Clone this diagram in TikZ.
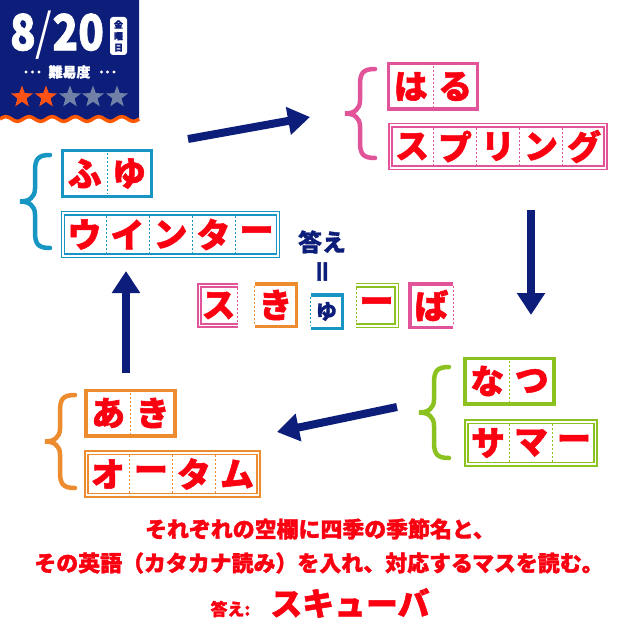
\documentclass[tikz,border=0pt]{standalone}
\usepackage{fontspec}
\newfontfamily\jp{Noto Sans CJK JP}[BoldFeatures={FakeBold=1.5}]
\usetikzlibrary{arrows.meta,calc,shapes.geometric}
\definecolor{qznavy}{RGB}{12,30,122}
\definecolor{qzred}{RGB}{250,0,16}
\definecolor{qzpink}{RGB}{226,84,154}
\definecolor{qzblue}{RGB}{24,150,195}
\definecolor{qzgreen}{RGB}{140,194,32}
\definecolor{qzorange}{RGB}{236,140,46}
\definecolor{qzwave}{RGB}{255,88,0}
\definecolor{qzstar}{RGB}{255,82,20}
\definecolor{qzgrey}{RGB}{112,128,166}
\newcommand{\kanafont}{\jp\bfseries\fontsize{34}{34}\selectfont}
% name, frame, colour, centre, cells, cell width, letters
\newcommand{\wordbox}[7]{%
  \node[#2=#3,minimum width=#5*#6bp] (#1) at (#4) {};
  \foreach \ch [count=\k] in {#7} {
    \node[kana] (#1-\k) at ($(#1.west)+({(\k-.5)*#6},0)$) {\ch};
    \ifnum\k<#5 \draw[cut=#3] ($(#1.north west)+(\k*#6,0)$) -- ($(#1.south west)+(\k*#6,0)$);\fi
  }}
% colour, tip x, top y, bottom y
\newcommand{\seasonbrace}[4]{%
  \pgfmathsetmacro\cmid{(#3+#4)/2}
  \draw[curl=#1] (#2+30,#3) .. controls (#2+18,#3) and (#2+15,#3+4) .. (#2+15,#3+16)
    -- (#2+15,\cmid-13) .. controls (#2+15,\cmid-4) and (#2+9,\cmid) .. (#2,\cmid)
    .. controls (#2+9,\cmid) and (#2+15,\cmid+4) .. (#2+15,\cmid+13)
    -- (#2+15,#4-16) .. controls (#2+15,#4-4) and (#2+18,#4) .. (#2+30,#4);}

\begin{document}
\begin{tikzpicture}[x=1bp,y=-1bp,every node/.style={inner sep=0pt,outer sep=0pt},
    kana/.style={font=\kanafont,text=qzred},
    onebox/.style={draw=#1,line width=3.5bp,minimum height=45.5bp},
    twobox/.style={draw=#1,double=white,double distance=1.8bp,line width=1.4bp,minimum height=42.5bp},
    cut/.style={draw=#1,line width=.9bp,dash pattern=on 2.2bp off 1.8bp,shorten <=2.3bp,shorten >=2.3bp},
    curl/.style={draw=#1,line width=4.5bp,line cap=round},
    rank/.style={star,star points=5,star point ratio=2.4,minimum size=23bp,fill=#1},
    note/.style={text=qzred,font=\jp\bfseries\fontsize{22}{22}\selectfont},
    flow/.style={draw=qznavy,line width=8bp,-{Triangle[length=22bp,width=27bp]}}]
  \useasboundingbox (0,0) rectangle (640,640);
  % date badge
  \fill[qznavy] (139,0) -- (0,0) -- (0,119) \foreach \w in {1,...,6} { sin ++(5.8,-2.4) cos ++(5.8,2.4) sin ++(5.8,2.4) cos ++(5.8,-2.4) } -- cycle;
  \draw[qzwave,line width=3.5bp] (0,119) \foreach \w in {1,...,6} { sin ++(5.8,-2.4) cos ++(5.8,2.4) sin ++(5.8,2.4) cos ++(5.8,-2.4) };
  \node[text=white,font=\jp\bfseries\fontsize{50}{50}\selectfont,xscale=.85] (date) at (57,35) {8{\mdseries/}20};
  \node[fill=white,rounded corners=3bp,minimum width=17bp,minimum height=38bp,text=qznavy,
    font=\jp\bfseries\fontsize{9}{11.5}\selectfont,align=center] (wday) at (118.5,36) {金\\曜\\日};
  \node[text=white,font=\jp\bfseries\fontsize{14}{14}\selectfont] (level) at (69.5,72) {難易度};
  \foreach \d in {26,32.5,39,101.5,107.5,114} \fill[white] (\d,72) circle (1.7);
  \foreach \x [count=\k] in {22,46} \node[rank=qzstar] (star\k) at (\x,97) {};
  \foreach \x [count=\k from 3] in {70,93,117} \node[rank=qzgrey] (star\k) at (\x,97) {};
  % seasons
  \wordbox{haru}{onebox}{qzpink}{433,86.5}{2}{44.5}{は,る}
  \wordbox{spring}{twobox}{qzpink}{498,146.5}{5}{43}{ス,プ,リ,ン,グ}
  \wordbox{fuyu}{onebox}{qzblue}{107,173.5}{2}{44.5}{ふ,ゆ}
  \wordbox{winter}{twobox}{qzblue}{170.5,234.5}{5}{43}{ウ,イ,ン,タ,ー}
  \wordbox{natsu}{onebox}{qzgreen}{509.5,381}{2}{44.5}{な,つ}
  \wordbox{summer}{twobox}{qzgreen}{531,443}{3}{43}{サ,マ,ー}
  \wordbox{aki}{onebox}{qzorange}{130.5,413}{2}{44.5}{あ,き}
  \wordbox{autumn}{twobox}{qzorange}{172.5,474}{4}{43}{オ,ー,タ,ム}
  \seasonbrace{qzpink}{345}{69}{158}
  \seasonbrace{qzblue}{20}{155}{248}
  \seasonbrace{qzgreen}{419}{367}{458}
  \seasonbrace{qzorange}{45}{395}{488}
  % cycle arrows
  \coordinate (w2s-a) at (188,139); \coordinate (w2s-b) at (310,117);
  \coordinate (s2u-a) at (531,210); \coordinate (s2u-b) at (531,315);
  \coordinate (u2a-a) at (397,407); \coordinate (u2a-b) at (277,432);
  \coordinate (a2w-a) at (126,373); \coordinate (a2w-b) at (126,271);
  \draw[flow] (w2s-a) -- (w2s-b);
  \draw[flow] (s2u-a) -- (s2u-b);
  \draw[flow] (u2a-a) -- (u2a-b);
  \draw[flow] (a2w-a) -- (a2w-b);
  % answer
  \node[text=qznavy,font=\jp\bfseries\fontsize{24}{24}\selectfont] (answord) at (322,242) {答え};
  \node[text=qznavy,font=\jp\bfseries\fontsize{26}{26}\selectfont,rotate=90] (equal) at (325,271.5) {＝};
  \node[kana,minimum width=38bp,minimum height=40bp] (ans1) at (218.5,305.5) {ス};
  \draw[twobox=qzpink] (ans1.north east) -- (ans1.north west) -- (ans1.south west) -- (ans1.south east);
  \draw[cut=qzpink] (ans1.north east) -- (ans1.south east);
  \node[kana,minimum width=41.5bp,minimum height=42.5bp] (ans2) at (275.5,305) {き};
  \draw[onebox=qzorange] (ans2.north west) -- (ans2.north east) -- (ans2.south east) -- (ans2.south west);
  \draw[cut=qzorange] (ans2.north west) -- (ans2.south west);
  \node[kana,text=qznavy,font=\jp\bfseries\fontsize{21}{21}\selectfont,minimum width=31.5bp,minimum height=33.5bp] (ans3) at (326.5,311.5) {ゆ};
  \draw[onebox=qzblue] (ans3.north west) -- (ans3.north east) -- (ans3.south east) -- (ans3.south west);
  \draw[cut=qzblue] (ans3.north west) -- (ans3.south west);
  \node[kana,minimum width=40.5bp,minimum height=40.5bp] (ans4) at (376.5,305.5) {ー};
  \draw[twobox=qzgreen] (ans4.north west) -- (ans4.north east) -- (ans4.south east) -- (ans4.south west);
  \draw[cut=qzgreen] (ans4.north west) -- (ans4.south west);
  \node[kana,minimum width=43.5bp,minimum height=43.5bp] (ans5) at (431.5,305.5) {ば};
  \draw[onebox=qzpink] (ans5.north east) -- (ans5.north west) -- (ans5.south west) -- (ans5.south east);
  \draw[cut=qzpink] (ans5.north east) -- (ans5.south east);
  % rules
  \node[note] (rule1) at (320,529) {それぞれの空欄に四季の季節名と、};
  \node[note] (rule2) at (319,563) {その英語（カタカナ読み）を入れ、対応するマスを読む。};
  \node[text=qzred] (answer) at (320,603) {{\jp\bfseries\fontsize{17}{17}\selectfont 答え:}\hspace{20bp}{\jp\bfseries\fontsize{32}{32}\selectfont スキューバ}};
\end{tikzpicture}
\end{document}
